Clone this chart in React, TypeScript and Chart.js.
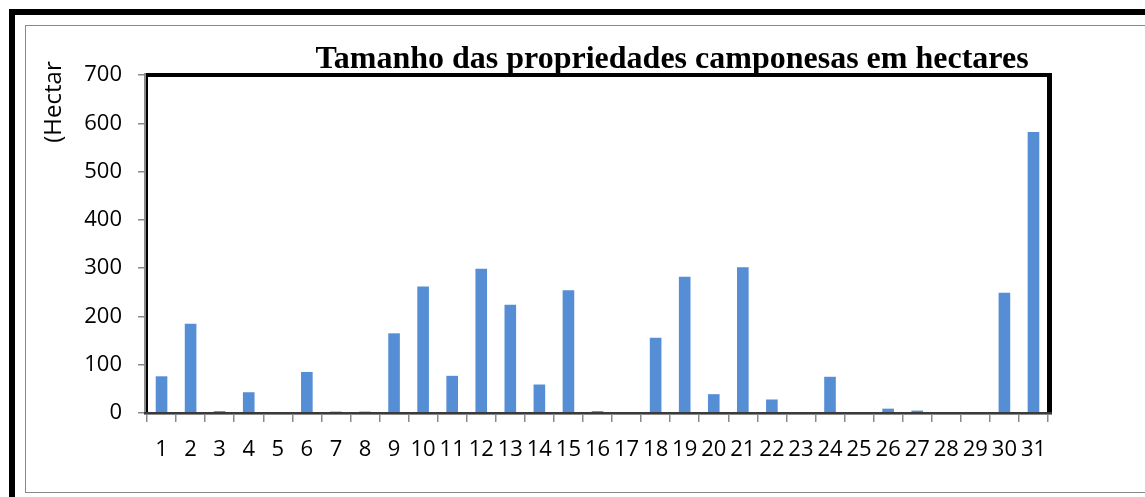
import React, { useEffect, useRef } from "react";
import { Chart, registerables } from "chart.js";

Chart.register(...registerables);

const categories: string[] = Array.from({ length: 31 }, (_, i) => String(i + 1));
const sizesHa: number[] = [76, 185, 4, 43, 0, 85, 3, 3, 165, 262, 77, 299, 224, 59, 254, 4, 0, 156, 282, 39, 302, 28, 0, 75, 0, 9, 5, 2, 0, 249, 582];
const yTicks: number[] = [0, 100, 200, 300, 400, 500, 600, 700];
const chartTitle = "Tamanho das propriedades camponesas em hectares";
const yTitle = "(Hectar";

const SANS = "'Open Sans', 'Liberation Sans', sans-serif";

const decorPlugin = {
  id: "decor",
  afterDatasetsDraw(chart: any) {
    const { ctx, chartArea } = chart;
    const { left, right, top, bottom } = chartArea;
    ctx.save();
    ctx.fillStyle = "#000";
    ctx.fillRect(left - 1, top - 2, right - left + 5, 4);
    ctx.fillRect(right - 1, top - 2, 5, bottom - top + 3);
    ctx.fillRect(left - 1, top - 2, 2, bottom - top + 2);
    ctx.fillStyle = "#8a8a8a";
    ctx.fillRect(left - 3, top - 2, 2, bottom - top + 3);
    ctx.fillStyle = "#3a3a3a";
    ctx.fillRect(left - 3, bottom - 1, right - left + 7, 2);
    ctx.fillStyle = "#8a8a8a";
    ctx.fillRect(left - 3, bottom + 1, right - left + 7, 1);
    ctx.restore();
  },
  afterDraw(chart: any) {
    const { ctx } = chart;
    ctx.save();
    ctx.fillStyle = "#000";
    ctx.font = "bold 32px 'Liberation Serif', 'Times New Roman', serif";
    ctx.textAlign = "center";
    ctx.textBaseline = "alphabetic";
    ctx.fillText(chartTitle, 672, 68);
    ctx.translate(54, 102);
    ctx.rotate(-Math.PI / 2);
    ctx.font = `24px ${SANS}`;
    ctx.textAlign = "center";
    ctx.textBaseline = "middle";
    ctx.fillText(yTitle, 0, 0);
    ctx.restore();
  },
};

export default function App() {
  const canvasRef = useRef<HTMLCanvasElement | null>(null);

  useEffect(() => {
    if (!canvasRef.current) return;
    const chart = new Chart(canvasRef.current, {
      type: "bar",
      data: {
        labels: categories,
        datasets: [
          {
            data: sizesHa,
            backgroundColor: "#558ED5",
            borderWidth: 0,
            barPercentage: 0.4,
            categoryPercentage: 1,
          },
        ],
      },
      options: {
        animation: false,
        responsive: false,
        layout: { padding: { top: 75, right: 97, left: 0, bottom: 24 } },
        plugins: {
          legend: { display: false },
          title: { display: false },
          tooltip: { enabled: false },
        },
        scales: {
          x: {
            offset: true,
            border: { display: false },
            grid: {
              display: true,
              offset: true,
              drawOnChartArea: false,
              drawTicks: true,
              tickLength: 9,
              color: "#8a8a8a",
              lineWidth: 1.5,
            },
            ticks: {
              color: "#000",
              font: { family: SANS, size: 22 },
              padding: 15,
              maxRotation: 0,
              autoSkip: false,
            },
            afterFit: (s: any) => {
              s.height = 60;
            },
          },
          y: {
            min: 0,
            max: 700,
            border: { display: false },
            grid: {
              display: true,
              drawOnChartArea: false,
              drawTicks: true,
              tickLength: 9,
              color: "#8a8a8a",
              lineWidth: 1.5,
            },
            afterBuildTicks: (s: any) => {
              s.ticks = yTicks.map((v) => ({ value: v }));
            },
            ticks: {
              color: "#000",
              font: { family: SANS, size: 22 },
              padding: 16,
            },
            afterFit: (s: any) => {
              s.width = 147;
            },
          },
        },
      },
      plugins: [decorPlugin],
    });
    return () => chart.destroy();
  }, []);

  return (
    <div
      style={{
        position: "fixed",
        left: 0,
        top: 0,
        width: 1145,
        height: 497,
        overflow: "hidden",
        background: "#fff",
      }}
    >
      <div
        style={{
          position: "absolute",
          left: 9,
          top: 9,
          width: 2000,
          height: 1000,
          border: "6px solid #000",
        }}
      />
      <div
        style={{
          position: "absolute",
          left: 25,
          top: 25,
          width: 2000,
          height: 466,
          border: "1px solid #898989",
        }}
      />
      <canvas
        ref={canvasRef}
        width={1145}
        height={497}
        style={{ position: "absolute", left: 0, top: 0, width: 1145, height: 497 }}
      />
    </div>
  );
}
